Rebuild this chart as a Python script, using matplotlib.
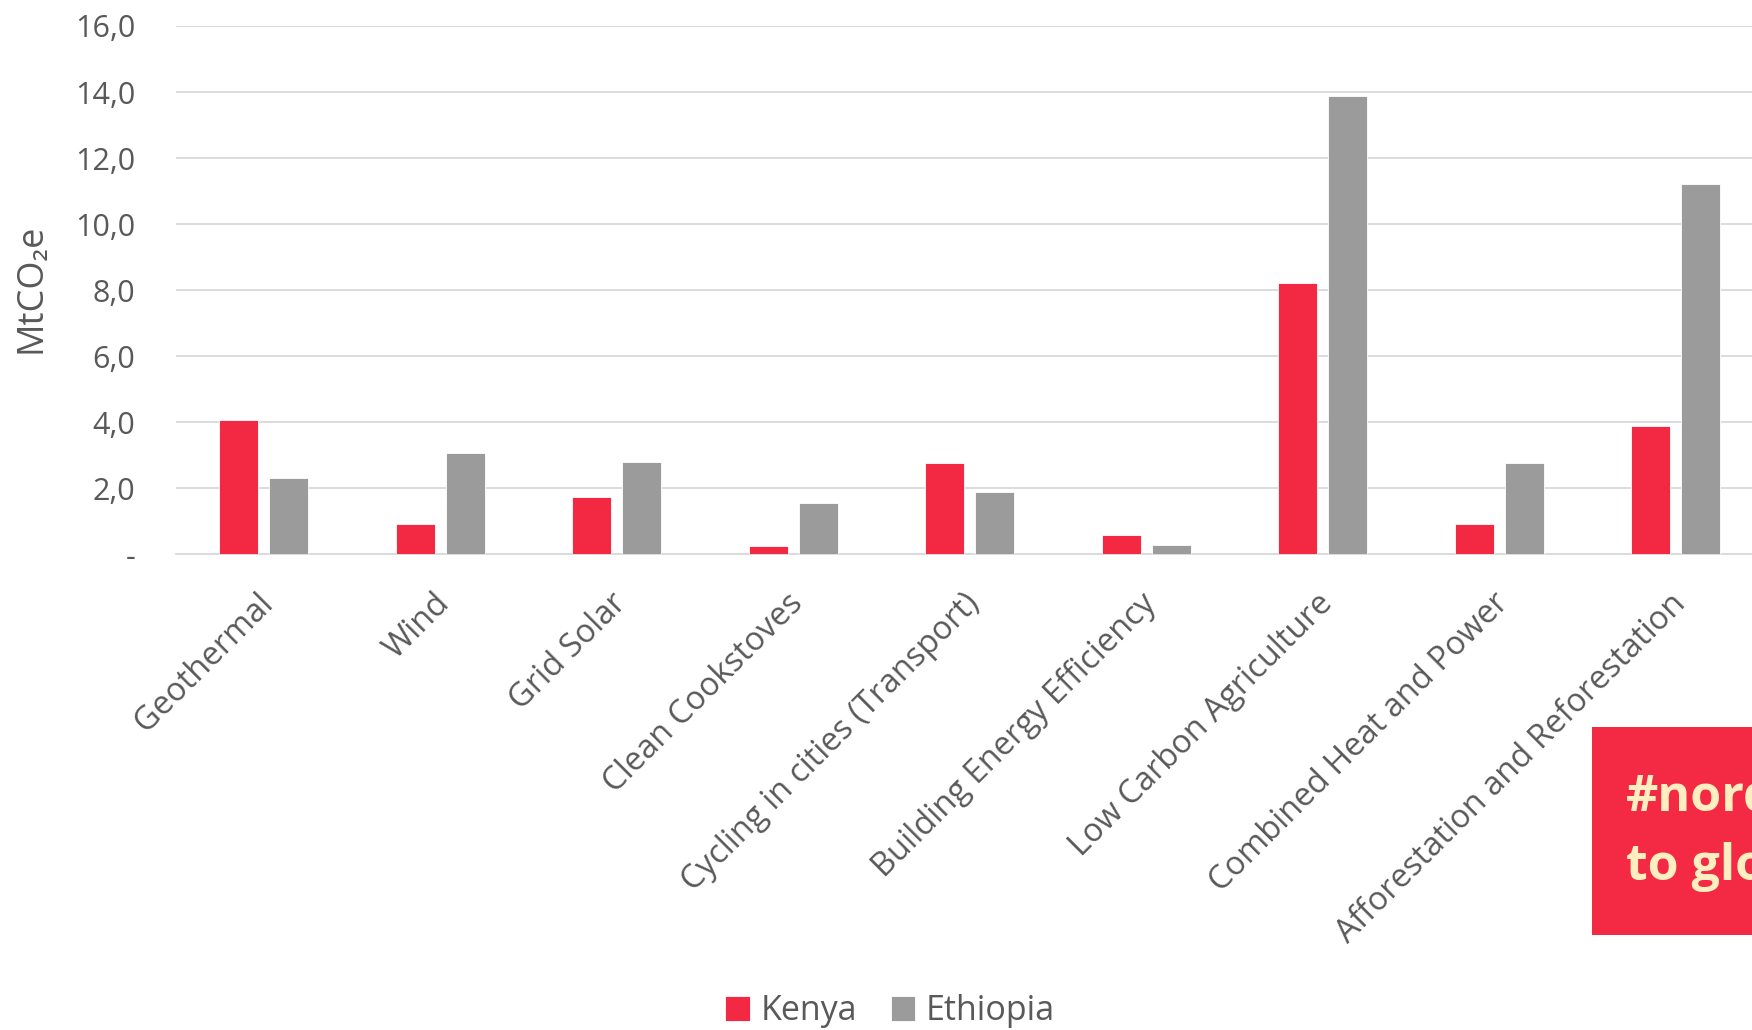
import matplotlib
matplotlib.use("Agg")
import matplotlib.pyplot as plt
from matplotlib.ticker import FuncFormatter, MultipleLocator
from matplotlib.patches import Rectangle
import matplotlib.transforms as mtransforms
import numpy as np

categories = ["Geothermal", "Wind", "Grid Solar", "Clean Cookstoves",
              "Cycling in cities (Transport)", "Building Energy Efficiency",
              "Low Carbon Agriculture", "Combined Heat and Power",
              "Afforestation and Reforestation"]
kenya = [4.08, 0.92, 1.75, 0.25, 2.76, 0.60, 8.23, 0.91, 3.90]
ethiopia = [2.31, 3.07, 2.81, 1.55, 1.89, 0.30, 13.88, 2.78, 11.21]
series_names = ["Kenya", "Ethiopia"]

RED = "#F32843"
GREY = "#9B9B9B"
TXT = "#595959"
FONT = ["Open Sans", "DejaVu Sans"]

plt.rcParams["font.family"] = FONT

fig = plt.figure(figsize=(17.52, 10.30), dpi=100)
ax = fig.add_axes([0.1002, 0.4617, 0.9067, 0.5131])

x = np.arange(len(categories))
off = 0.142
w = 0.222
b1 = ax.bar(x - off, kenya, w, color=RED, edgecolor="white", linewidth=0.6, zorder=3, label=series_names[0])
b2 = ax.bar(x + off, ethiopia, w, color=GREY, edgecolor="white", linewidth=0.6, zorder=3, label=series_names[1])

ax.set_xlim(-0.5, len(categories) - 0.5)
ax.set_ylim(0, 16)
ax.yaxis.set_major_locator(MultipleLocator(2))
ax.yaxis.set_major_formatter(FuncFormatter(lambda v, p: "-" if abs(v) < 1e-9 else f"{v:.1f}".replace(".", ",")))
ax.grid(axis="y", color="#D9D9D9", linewidth=1.3, zorder=0)
ax.set_axisbelow(True)
for s in ["top", "right", "left"]:
    ax.spines[s].set_visible(False)
ax.spines["bottom"].set_color("#D9D9D9")
ax.spines["bottom"].set_linewidth(1.3)
ax.tick_params(axis="both", length=0, colors=TXT)
ax.tick_params(axis="y", labelsize=22, pad=29)
ax.set_xticks(x)
ax.set_xticklabels(categories, rotation=45, ha="right", rotation_mode="anchor", fontsize=23.5, color=TXT)
ax.tick_params(axis="x", pad=22)
shift = mtransforms.ScaledTranslation(-7 / 100, -2 / 100, fig.dpi_scale_trans)
for lab in ax.get_xticklabels():
    lab.set_transform(lab.get_transform() + shift)
for lab in ax.get_yticklabels():
    lab.set_color(TXT)

fig.text(0.018, 0.72, "MtCO₂e", rotation=90, ha="center", va="center", fontsize=26, color=TXT)

fig.legend(handles=[b1, b2], labels=series_names, loc="center", bbox_to_anchor=(0.508, 0.018),
           ncol=2, frameon=False, fontsize=24.5, labelcolor=TXT, handlelength=0.72, handleheight=0.72,
           handletextpad=0.3, columnspacing=1.0)

fig.patches.append(Rectangle((1592 / 1752, 1 - 935 / 1030), 0.2, 208 / 1030,
                             transform=fig.transFigure, facecolor="#F42A45", edgecolor="none", zorder=5))
fig.text(1626 / 1752, 1 - 798 / 1030, "#nordic", fontsize=36, fontweight="bold", color="#FFEFC0",
         ha="left", va="center", zorder=6)
fig.text(1626 / 1752, 1 - 867 / 1030, "to global", fontsize=36, fontweight="bold", color="#FFEFC0",
         ha="left", va="center", zorder=6)

fig.savefig("out.png", dpi=100)
